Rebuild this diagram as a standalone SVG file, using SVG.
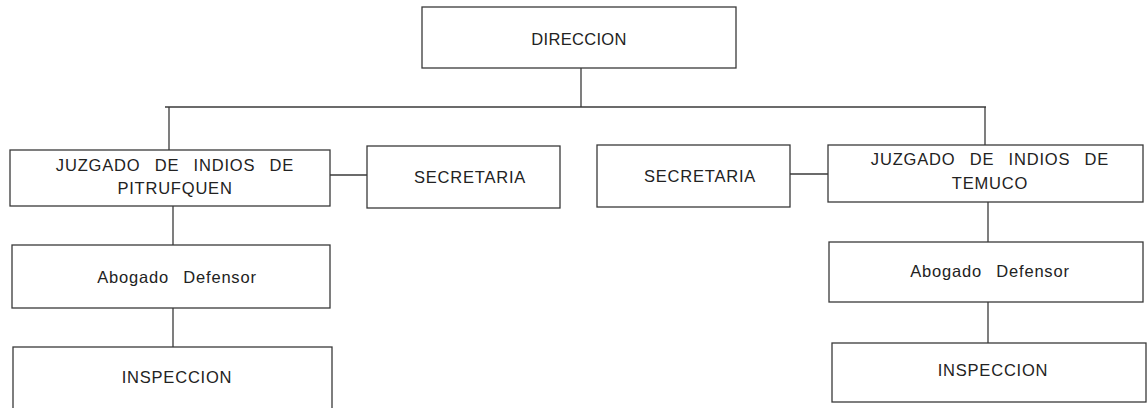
<svg xmlns="http://www.w3.org/2000/svg" width="1148" height="408" viewBox="0 0 1148 408">
<style>
.box{fill:none;stroke:#3a3a3a;stroke-width:1.3}
.ln{fill:none;stroke:#3a3a3a;stroke-width:1.3}
.t{font-family:"Liberation Sans",Arial,sans-serif;font-size:16.5px;fill:#222;letter-spacing:0.8px;word-spacing:9px;text-anchor:middle}
</style>
<rect width="1148" height="408" fill="#ffffff"/>
<g id="connectors">
<path class="ln" d="M581 68 V107"/>
<path class="ln" d="M165 107 H986"/>
<path class="ln" d="M169 107 V150"/>
<path class="ln" d="M985 107 V145"/>
<path class="ln" d="M330 175 H367"/>
<path class="ln" d="M790 174 H828"/>
<path class="ln" d="M173 206 V245"/>
<path class="ln" d="M173 308 V347"/>
<path class="ln" d="M988 202 V242"/>
<path class="ln" d="M988 302 V343"/>
</g>
<g id="direccion">
<rect class="box" x="422" y="7" width="314" height="61"/>
<text class="t" x="579" y="45" style="letter-spacing:0.3px">DIRECCION</text>
</g>
<g id="juzgado-pitrufquen">
<rect class="box" x="10" y="150" width="320" height="56"/>
<text class="t" x="175" y="171">JUZGADO DE INDIOS DE</text>
<text class="t" x="175" y="194">PITRUFQUEN</text>
</g>
<g id="secretaria-izq">
<rect class="box" x="367" y="146" width="193" height="62"/>
<text class="t" x="470" y="183">SECRETARIA</text>
</g>
<g id="secretaria-der">
<rect class="box" x="597" y="145" width="193" height="62"/>
<text class="t" x="700" y="182">SECRETARIA</text>
</g>
<g id="juzgado-temuco">
<rect class="box" x="828" y="145" width="315" height="57"/>
<text class="t" x="990" y="165">JUZGADO DE INDIOS DE</text>
<text class="t" x="990" y="189">TEMUCO</text>
</g>
<g id="abogado-izq">
<rect class="box" x="12" y="245" width="318" height="63"/>
<text class="t" x="177" y="283">Abogado Defensor</text>
</g>
<g id="abogado-der">
<rect class="box" x="829" y="242" width="314" height="60"/>
<text class="t" x="990" y="277">Abogado Defensor</text>
</g>
<g id="inspeccion-izq">
<rect class="box" x="13" y="347" width="319" height="70"/>
<text class="t" x="177" y="383">INSPECCION</text>
</g>
<g id="inspeccion-der">
<rect class="box" x="832" y="343" width="314" height="59"/>
<text class="t" x="993" y="376">INSPECCION</text>
</g>
</svg>
